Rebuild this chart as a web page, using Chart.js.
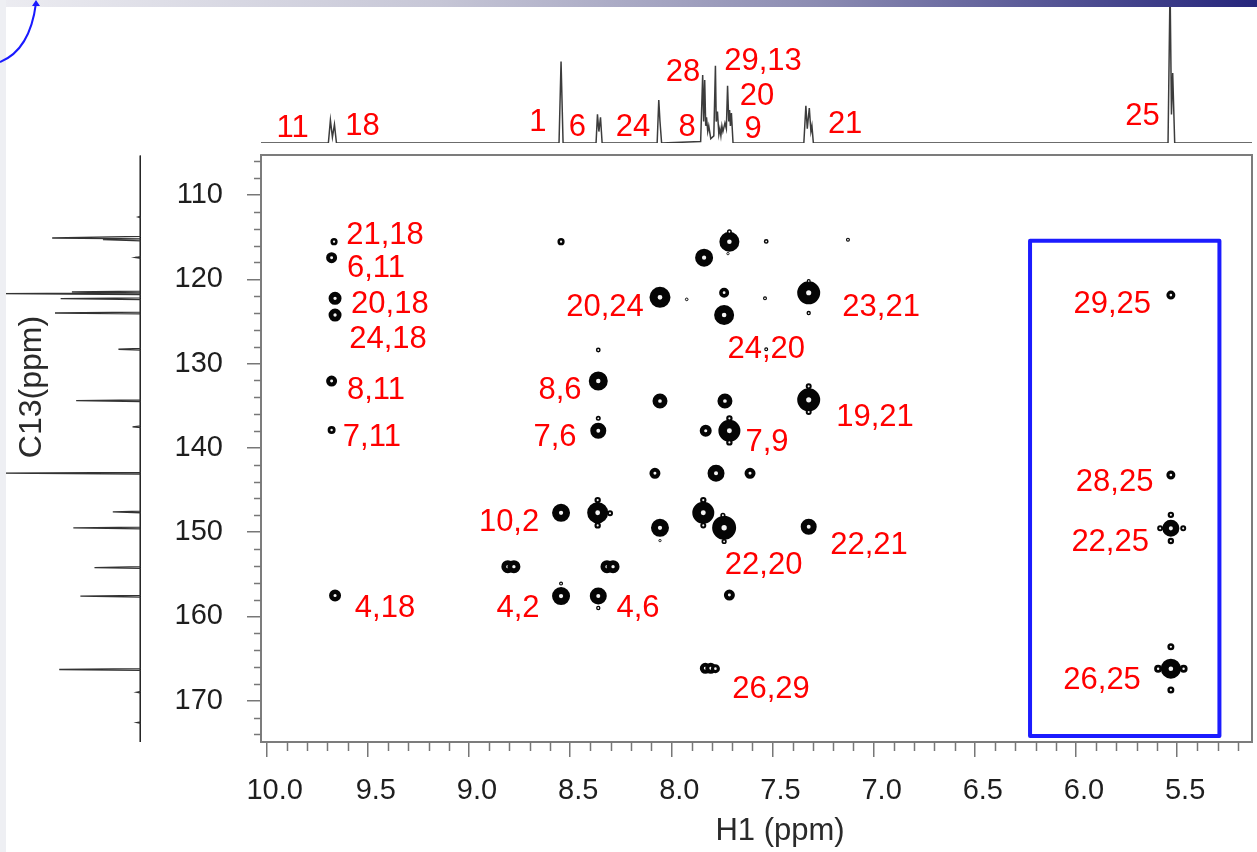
<!DOCTYPE html>
<html><head><meta charset="utf-8">
<script src="https://cdn.jsdelivr.net/npm/chart.js@4.4.1/dist/chart.umd.min.js"></script>
<style>
html,body{margin:0;padding:0;background:#fff;width:1257px;height:852px;overflow:hidden;}
#wrap{position:relative;width:1257px;height:852px;background:#fff;}
canvas{position:absolute;}
#topbar{position:absolute;left:0;top:0;width:1257px;height:7px;background:linear-gradient(to right,#ececf1 0%,#c6c6d6 35%,#8c8cb2 65%,#26267c 100%);z-index:5;}
#leftbar{position:absolute;left:0;top:0;width:6px;height:852px;background:#eeeff3;z-index:5;}
#arc{position:absolute;left:0;top:0;z-index:6;}
</style></head><body><div id="wrap">
<canvas id="top" width="1257" height="146" style="left:0;top:0"></canvas>
<canvas id="left" width="146" height="587" style="left:0;top:155px"></canvas>
<canvas id="main" width="1257" height="852" style="left:0;top:0"></canvas>
<div id="topbar"></div><div id="leftbar"></div>
<svg id="arc" width="60" height="80"><path d="M0,62 Q30,50 36,3" fill="none" stroke="#1a1aff" stroke-width="2"/><path d="M32,6 L36,0 L40,6 Z" fill="#1a1aff"/></svg>
</div>
<script>
// ---- 1H projection (ppm, relative intensity)
const h1Ppm = [10.03, 9.695, 9.685, 9.675, 9.665, 9.655, 8.555, 8.545, 8.535, 8.372, 8.365, 8.358, 8.350, 8.342,
  8.070, 8.062, 8.056, 8.048, 7.855, 7.845, 7.840, 7.835, 7.830, 7.826, 7.820, 7.815, 7.805, 7.790, 7.782, 7.778,
  7.772, 7.765, 7.760, 7.755, 7.750, 7.745, 7.735, 7.728, 7.722, 7.716, 7.712, 7.708, 7.703, 7.695,
  7.345, 7.335, 7.328, 7.318, 7.310, 7.305, 7.298, 5.545, 5.535, 5.528, 5.522, 5.512, 5.13];
const h1Int = [0, 0, 0.16, 0.04, 0.13, 0, 0, 0.57, 0, 0, 0.20, 0.08, 0.18, 0,
  0, 0.30, 0.15, 0, 0.01, 0.475, 0.15, 0.44, 0.12, 0.18, 0.08, 0.12, 0.03, 0.05, 0.54, 0.15,
  0.22, 0.06, 0.10, 0.05, 0.12, 0.08, 0.14, 0.10, 0.40, 0.15, 0.23, 0.12, 0.21, 0,
  0, 0.26, 0.10, 0.245, 0.08, 0.12, 0, 0, 1.10, 0.20, 0.49, 0, 0];
// ---- 13C projection (ppm, relative intensity)
const c13Ppm = [105.3, 112.5, 112.6, 112.7, 114.9, 115.1, 115.2, 115.3, 115.45, 117.3, 117.4, 117.5,
  121.4, 121.5, 121.6, 121.7, 121.8, 122.2, 122.3, 122.4, 123.9, 124.0, 124.1, 128.2, 128.3, 128.4,
  134.3, 134.4, 134.5, 137.4, 137.5, 137.6, 142.9, 143.0, 143.1, 147.5, 147.6, 147.7, 149.4, 149.5, 149.6,
  154.1, 154.2, 154.3, 157.5, 157.6, 157.7, 166.2, 166.3, 166.4, 168.9, 169.0, 169.1, 172.5, 172.6, 172.7, 174.9];
const c13Int = [0, 0, 0.02, 0, 0, 0.63, 0, 0.27, 0, 0, 0.04, 0,
  0, 0.49, 0, 1.0, 0, 0, 0.57, 0, 0, 0.61, 0, 0, 0.16, 0,
  0, 0.46, 0, 0, 0.06, 0, 0, 1.0, 0, 0, 0.20, 0, 0, 0.48, 0,
  0, 0.33, 0, 0, 0.43, 0, 0, 0.58, 0, 0, 0.03, 0, 0, 0.03, 0, 0];
// ---- HMBC cross peaks: 1H shift, 13C shift, relative contour intensity
const crossH = [9.667, 9.679, 9.662, 9.662, 9.679, 9.679, 9.662,
  8.545, 8.545, 8.545, 8.545,
  8.361, 8.361, 8.361, 8.361, 8.364, 8.364, 8.364, 8.303, 8.361, 8.361,
  8.808, 8.778, 8.318, 8.288,
  8.056, 8.056, 8.081, 8.056, 8.056, 7.924,
  7.838, 7.830, 7.842, 7.842, 7.842, 7.779, 7.832, 7.805, 7.782,
  7.713, 7.713, 7.720, 7.739, 7.739, 7.735, 7.713, 7.713, 7.713, 7.739, 7.745, 7.739, 7.713,
  7.611, 7.531, 7.537, 7.531,
  7.321, 7.321, 7.321, 7.321, 7.321, 7.321, 7.321, 7.127,
  5.531, 5.531, 5.531, 5.531, 5.531, 5.584, 5.470, 5.531, 5.531, 5.531, 5.594, 5.468];
const crossC = [115.54, 117.44, 122.26, 124.24, 132.07, 137.88, 157.52,
  115.54, 147.70, 157.58, 156.1,
  128.39, 132.07, 137.97, 136.5, 147.70, 146.2, 149.2, 147.75, 157.58, 159.0,
  154.10, 154.10, 154.10, 154.10,
  122.14, 134.44, 143.02, 149.48, 151.0, 122.38,
  117.44, 137.97, 147.70, 146.2, 149.2, 143.02, 166.16, 166.16, 166.2,
  115.54, 114.35, 116.95, 121.59, 124.24, 134.44, 137.97, 136.5, 139.35, 149.48, 148.0, 151.1, 157.46,
  143.02, 115.50, 122.26, 128.30,
  121.6, 120.2, 124.0, 134.30, 132.7, 135.75, 149.36, 115.30,
  121.87, 143.22, 149.55, 147.95, 151.05, 149.55, 149.55, 166.2, 163.6, 168.73, 166.2, 166.2];
const crossInt = [3.6, 5.5, 6.5, 6.5, 5.5, 4, 6,
  3.6, 9, 9, 2,
  2.4, 9.5, 8, 2.5, 10.5, 3.2, 3.2, 3, 8.5, 2.2,
  6.5, 6.5, 6.5, 6.5,
  10.5, 7.5, 5.5, 9, 1.6, 1.8,
  9, 6, 11, 3.2, 3, 8.5, 5.5, 5.5, 4.5,
  10, 2.5, 1.6, 5, 10, 7.5, 11, 3.2, 3.2, 12, 2.6, 2.6, 5.5,
  5.5, 2.4, 2, 2,
  11.5, 2, 2.2, 11.5, 3, 3, 8, 2,
  4.5, 4.5, 8.5, 3.2, 3.2, 3, 3, 10, 3.5, 3.5, 4, 4];
// ---- axis ticks
const xTicks = [10.0, 9.5, 9.0, 8.5, 8.0, 7.5, 7.0, 6.5, 6.0, 5.5];
const yTicks = [110, 120, 130, 140, 150, 160, 170];
// ---- assignment labels on the 2D map
const mapLabels = ['21,18','6,11','20,18','24,18','8,11','7,11','20,24','8,6','7,6','24,20','23,21','19,21','7,9',
  '10,2','22,21','22,20','4,2','4,6','4,18','26,29','29,25','28,25','22,25','26,25'];
const mapLabelH = [9.415, 9.460, 9.391, 9.400, 9.460, 9.480, 8.328, 8.550, 8.575, 7.531, 6.963, 6.993, 7.527,
  8.802, 7.023, 7.544, 8.758, 8.165, 9.415, 7.507, 5.821, 5.809, 5.831, 5.871];
const mapLabelC = [114.51, 118.42, 122.70, 126.79, 132.90, 138.48, 122.99, 132.90, 138.48, 128.04, 123.05, 136.10, 139.07,
  148.56, 151.29, 153.66, 158.77, 158.77, 158.77, 168.38, 122.64, 143.82, 150.93, 167.31];
// ---- assignment labels on the 1H projection
const topLabels = ['11','18','1','6','24','8','28','29,13','20','9','21','25'];
const topLabelH = [9.872, 9.526, 8.659, 8.464, 8.189, 7.922, 7.942, 7.547, 7.576, 7.596, 7.141, 5.671];
const topLabelI = [0.119, 0.133, 0.161, 0.126, 0.126, 0.126, 0.510, 0.587, 0.343, 0.112, 0.147, 0.203];
// ---- highlighted region
const boxH = [6.227, 5.291];
const boxC = [115.42, 174.19];

const xMin = 5.13, xMax = 10.028, yMin = 105.25, yMax = 174.9;
const FONT = "'Liberation Sans', Arial, Helvetica, sans-serif";

const textPlugin = {
  id: 'txt',
  afterDatasetsDraw(chart, args, o) {
    if (!o || !o.items) return;
    const ctx = chart.ctx, sx = chart.scales.x, sy = chart.scales.y;
    ctx.save();
    ctx.font = o.size + 'px ' + FONT;
    ctx.fillStyle = o.color;
    ctx.textAlign = 'center';
    ctx.textBaseline = 'alphabetic';
    o.items.forEach((t, i) => {
      const px = sx.getPixelForValue(o.xs[i]);
      const py = sy.getPixelForValue(o.ys[i]);
      ctx.fillText(t, px, py + 0.358 * o.size);
    });
    ctx.restore();
  }
};

const commonOpts = { responsive: false, animation: false, events: [] };

new Chart(document.getElementById('top'), {
  type: 'scatter',
  data: { datasets: [{ data: h1Ppm.map((p, i) => ({ x: p, y: h1Int[i] })), showLine: true,
    borderColor: '#3c3c3c', borderWidth: 1.5, pointRadius: 0, tension: 0 }] },
  options: Object.assign({}, commonOpts, {
    layout: { autoPadding: false, padding: { left: 261, right: 5, top: 0, bottom: 3 } },
    scales: {
      x: { type: 'linear', min: xMin, max: xMax, reverse: true, display: false },
      y: { type: 'linear', min: 0, max: 1, display: false }
    },
    plugins: { legend: { display: false }, tooltip: { enabled: false },
      txt: { items: topLabels, xs: topLabelH, ys: topLabelI, size: 31, color: '#ff0000' } }
  }),
  plugins: [textPlugin]
});

new Chart(document.getElementById('left'), {
  type: 'scatter',
  data: { datasets: [
    { data: c13Ppm.map((p, i) => ({ x: c13Int[i], y: p })), showLine: true,
      borderColor: '#333', borderWidth: 1.3, pointRadius: 0, tension: 0 },
    { data: [{ x: 0, y: c13Ppm[0] }, { x: 0, y: c13Ppm[c13Ppm.length - 1] }], showLine: true,
      borderColor: '#111', borderWidth: 3, pointRadius: 0 }
  ] },
  options: Object.assign({}, commonOpts, {
    layout: { autoPadding: false, padding: { left: 0, right: 5, top: 0, bottom: 0 } },
    scales: {
      x: { type: 'linear', min: 0, max: 1, reverse: true, display: false },
      y: { type: 'linear', min: yMin, max: yMax, reverse: true, display: false }
    },
    plugins: { legend: { display: false }, tooltip: { enabled: false } }
  })
});

const framePlugin = {
  id: 'frame',
  beforeDatasetsDraw(chart) {
    const ctx = chart.ctx, a = chart.chartArea, x = chart.scales.x, y = chart.scales.y;
    ctx.save();
    ctx.strokeStyle = '#7c7c7c'; ctx.lineWidth = 2;
    ctx.strokeRect(a.left, a.top, a.right - a.left, a.bottom - a.top);
    ctx.lineWidth = 1.5; ctx.strokeStyle = '#777';
    ctx.beginPath();
    for (let v = Math.ceil(xMin * 10); v <= Math.floor(xMax * 10); v++) {
      if (v % 5 === 0) continue;
      const px = Math.round(x.getPixelForValue(v / 10)) + 0.5;
      ctx.moveTo(px, a.bottom); ctx.lineTo(px, a.bottom + 9);
    }
    for (let v = Math.ceil(yMin / 2) * 2; v <= yMax; v += 2) {
      if (v % 10 === 0) continue;
      const py = Math.round(y.getPixelForValue(v)) + 0.5;
      ctx.moveTo(a.left - 7, py); ctx.lineTo(a.left, py);
    }
    ctx.stroke();
    ctx.restore();
  },
  afterDatasetsDraw(chart) {
    const ctx = chart.ctx, x = chart.scales.x, y = chart.scales.y;
    ctx.save();
    ctx.strokeStyle = '#1c1cff'; ctx.lineWidth = 4; ctx.lineJoin = 'round';
    const bx1 = x.getPixelForValue(boxH[0]), bx2 = x.getPixelForValue(boxH[1]);
    const by1 = y.getPixelForValue(boxC[0]), by2 = y.getPixelForValue(boxC[1]);
    ctx.strokeRect(bx1, by1, bx2 - bx1, by2 - by1);
    ctx.fillStyle = '#2a2a2a';
    ctx.font = '31px ' + FONT;
    ctx.textAlign = 'center'; ctx.textBaseline = 'alphabetic';
    ctx.fillText('H1 (ppm)', 780, 840);
    ctx.font = '32px ' + FONT;
    ctx.translate(41, 387); ctx.rotate(-Math.PI / 2);
    ctx.fillText('C13(ppm)', 0, 0);
    ctx.restore();
  }
};

const outerR = crossInt.map(v => v);
const holeR = outerR.map(R => 0.18 * R + 0.5);

new Chart(document.getElementById('main'), {
  type: 'scatter',
  data: { datasets: [{
    data: crossH.map((h, i) => ({ x: h, y: crossC[i] })),
    pointStyle: 'circle',
    pointRadius: outerR.map((R, i) => (R + holeR[i]) / 2),
    pointBorderWidth: outerR.map((R, i) => R - holeR[i]),
    pointBackgroundColor: '#f4f4f4',
    pointBorderColor: '#050505'
  }] },
  options: Object.assign({}, commonOpts, {
    layout: { autoPadding: false, padding: { left: 150, right: 5, top: 155, bottom: 0 } },
    scales: {
      x: { type: 'linear', min: xMin, max: xMax, reverse: true,
        afterFit: s => { s.height = 110; s.paddingLeft = 0; s.paddingRight = 0; },
        afterBuildTicks: s => { s.ticks = xTicks.map(v => ({ value: v })); },
        border: { display: false },
        grid: { drawOnChartArea: false, drawTicks: true, tickLength: 15, color: '#777', lineWidth: 1.5 },
        ticks: { font: { size: 29, family: FONT }, color: '#1e1e1e', padding: 17, labelOffset: 8,
          maxRotation: 0, autoSkip: false, callback: v => Number(v).toFixed(1) } },
      y: { type: 'linear', min: yMin, max: yMax, reverse: true,
        afterFit: s => { s.width = 111; s.paddingTop = 0; s.paddingBottom = 0; },
        afterBuildTicks: s => { s.ticks = yTicks.map(v => ({ value: v })); },
        border: { display: false },
        grid: { drawOnChartArea: false, drawTicks: true, tickLength: 14, color: '#777', lineWidth: 1.5 },
        ticks: { font: { size: 29, family: FONT }, color: '#1e1e1e', padding: 24, autoSkip: false,
          callback: v => String(v) } }
    },
    plugins: { legend: { display: false }, tooltip: { enabled: false },
      txt: { items: mapLabels, xs: mapLabelH, ys: mapLabelC, size: 31, color: '#ff0000' } }
  }),
  plugins: [framePlugin, textPlugin]
});
</script>
</body></html>
